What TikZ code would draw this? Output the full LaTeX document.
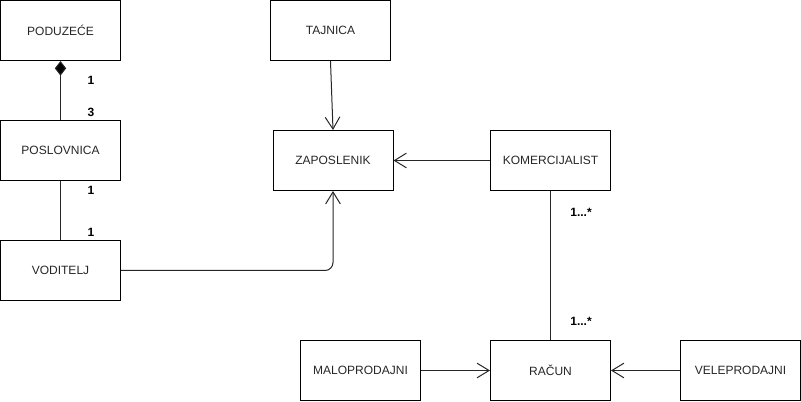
\documentclass[tikz,border=0pt]{standalone}
\usepackage{fontspec}
\setmainfont{Liberation Sans}
\usetikzlibrary{arrows.meta}
\begin{document}
\begin{tikzpicture}[x=0.75pt,y=-0.75pt,
  cls/.style={draw=black, line width=0.75pt, minimum width=90pt, minimum height=45pt, inner sep=0pt, font=\fontsize{9}{11}\selectfont, text=black!85},
  lbl/.style={font=\bfseries\fontsize{9}{11}\selectfont, inner sep=0pt},
  conn/.style={draw=black!85, line width=0.75pt},
  openarr/.style={-{Straight Barb[length=9pt,width=11pt,line width=0.75pt]}},
  comp/.style={{Diamond[length=11pt,width=8.5pt,fill=black]}-}
]
\useasboundingbox (0,0) rectangle (801,402);
\node[cls] (pod) at (60.5,30.5) {PODUZEĆE};
\node[cls] (posl) at (60.5,150.5) {POSLOVNICA};
\node[cls] (vod) at (60.5,270.5) {VODITELJ};
\node[cls] (taj) at (330.5,30.5) {TAJNICA};
\node[cls] (zap) at (333,160.5) {ZAPOSLENIK};
\node[cls] (kom) at (550.5,160.5) {KOMERCIJALIST};
\node[cls] (rac) at (550.5,370.5) {RAČUN};
\node[cls] (malo) at (360.5,370.5) {MALOPRODAJNI};
\node[cls] (vele) at (740.5,370.5) {VELEPRODAJNI};

\draw[conn,comp] (pod) -- (posl);
\draw[conn] (posl) -- (vod);
\draw[conn,openarr] (taj.south) -- (zap.north);
\draw[conn,openarr] (kom) -- (zap);
\draw[conn,openarr,rounded corners=6pt] (vod.east) -| (zap.south);
\draw[conn] (kom) -- (rac);
\draw[conn,openarr] (malo) -- (rac);
\draw[conn,openarr] (vele) -- (rac);

\node[lbl] (l1) at (91,80) {1};
\node[lbl] (l2) at (91,112) {3};
\node[lbl] (l3) at (91,190) {1};
\node[lbl] (l4) at (91,232) {1};
\node[lbl] (l5) at (581,212) {1...*};
\node[lbl] (l6) at (581,321) {1...*};
\end{tikzpicture}
\end{document}
